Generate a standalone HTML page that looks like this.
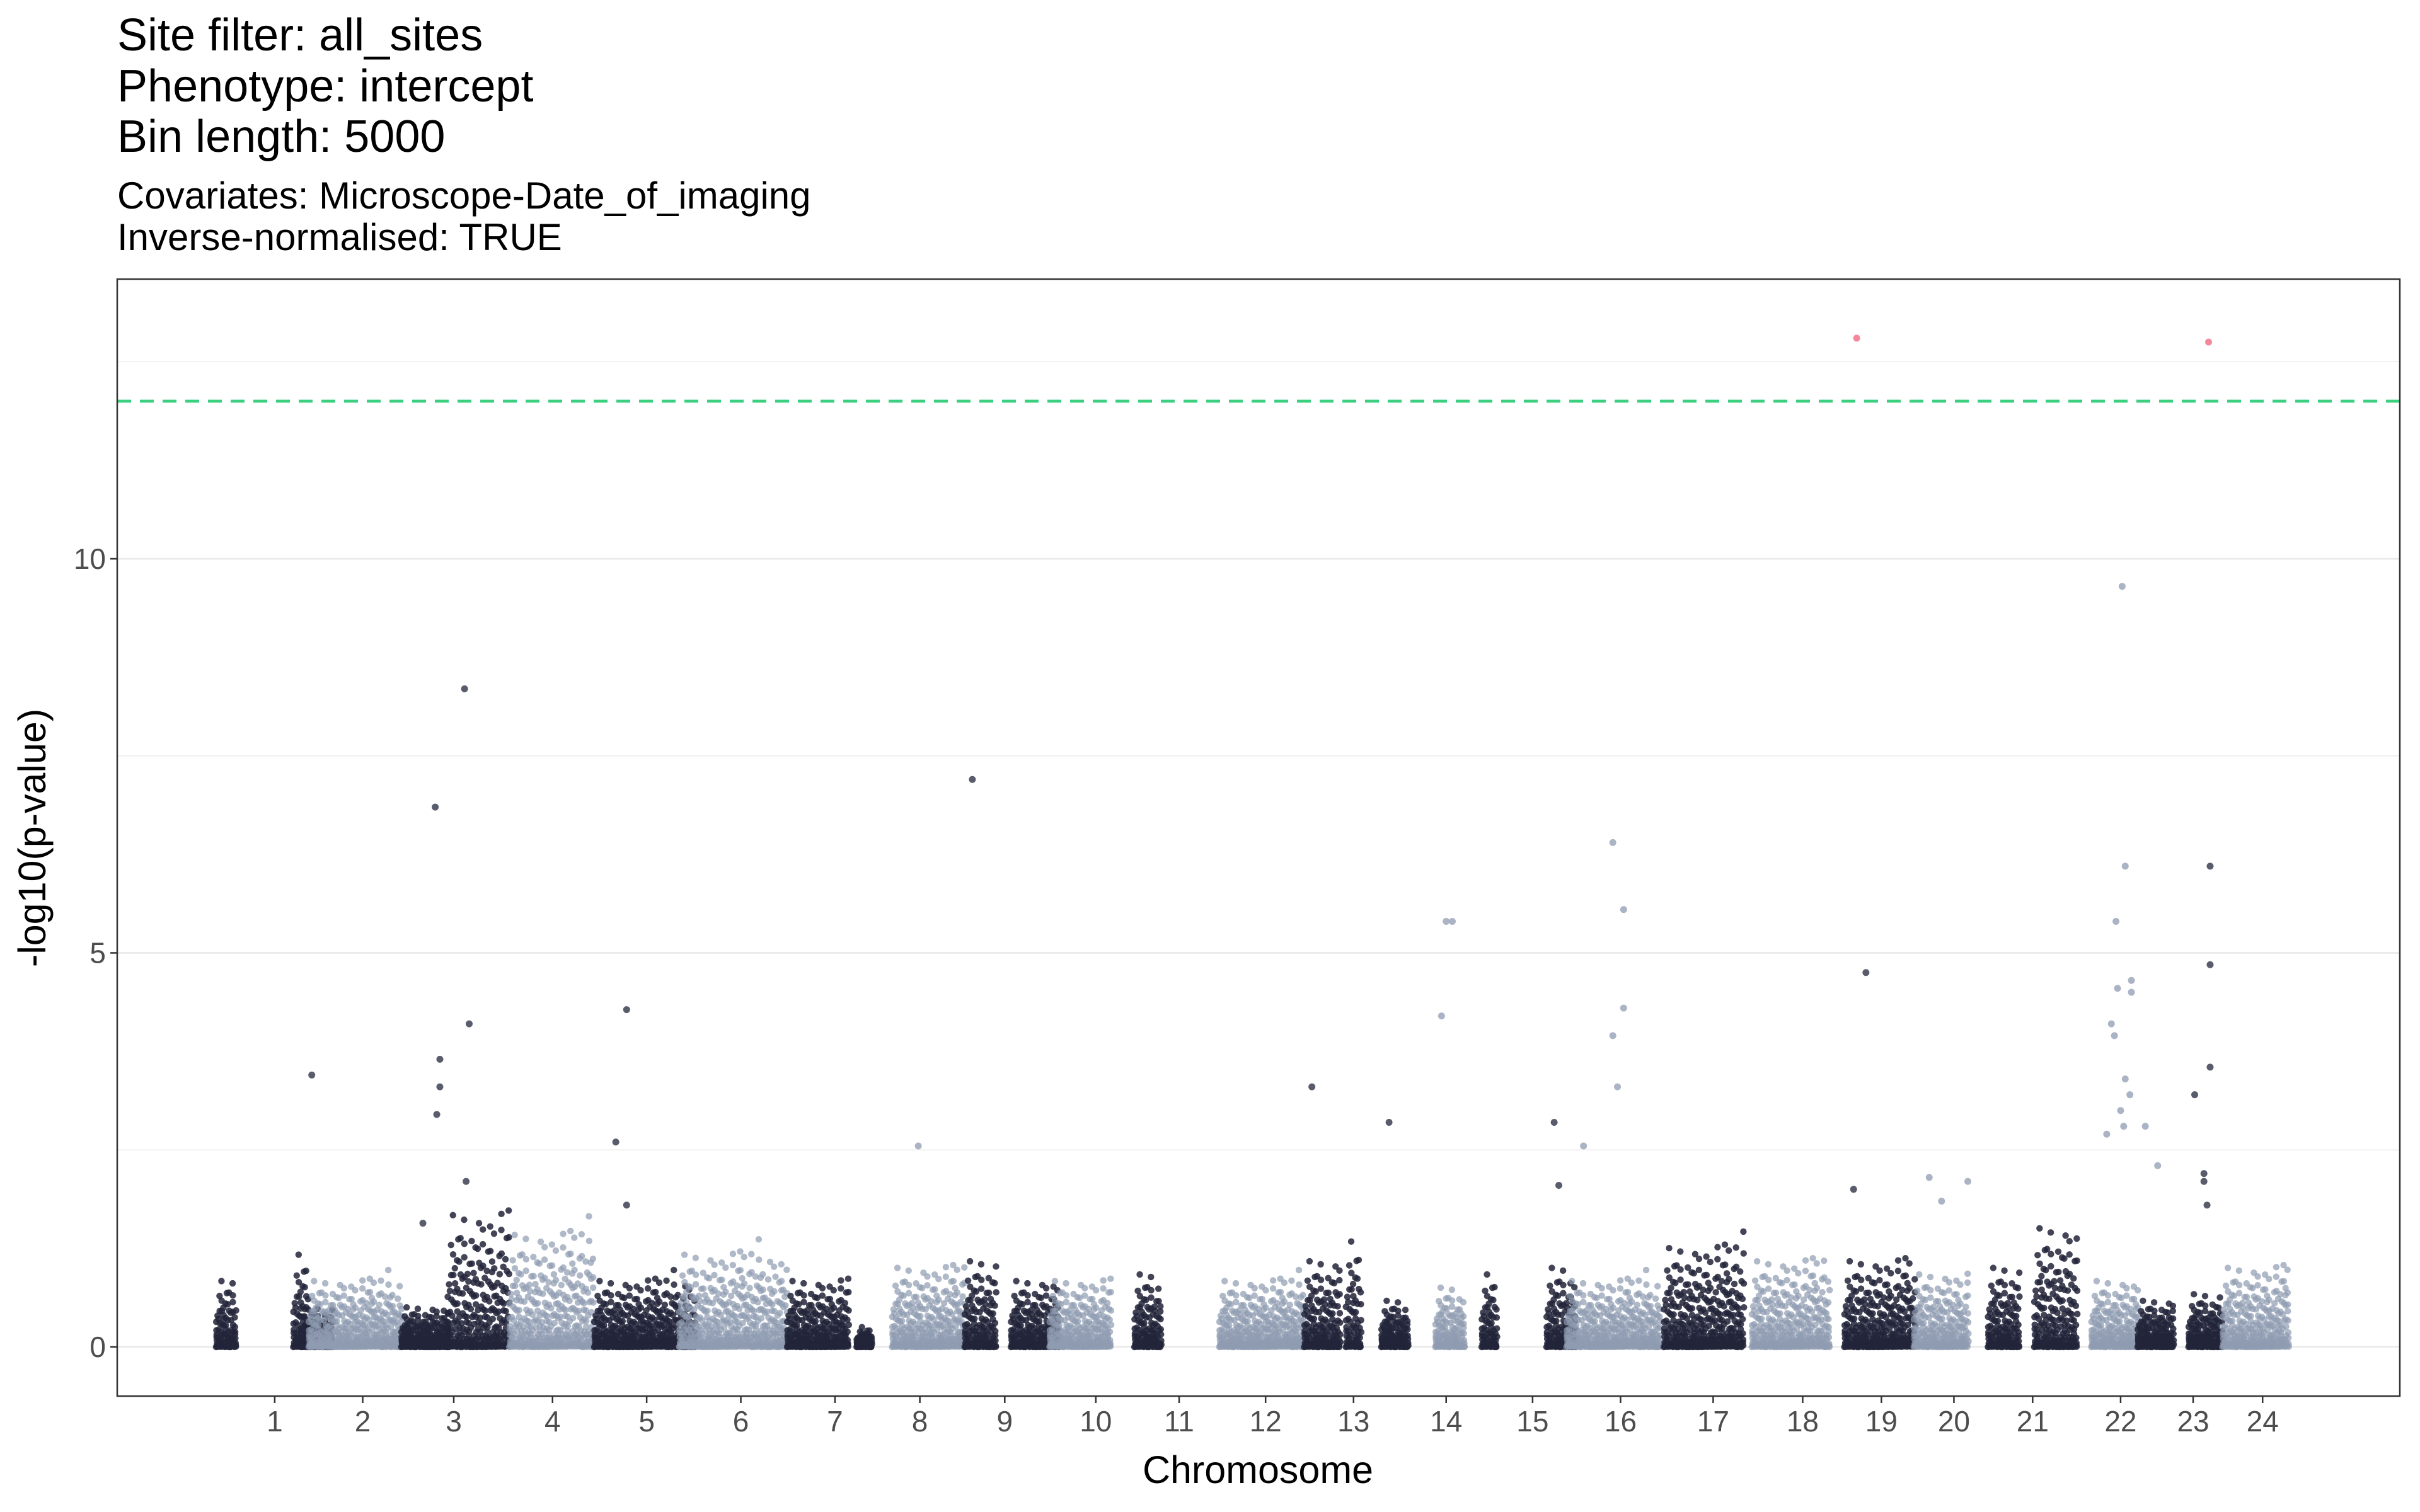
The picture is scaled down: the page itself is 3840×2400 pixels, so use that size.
<!DOCTYPE html>
<html><head><meta charset="utf-8"><style>
html,body{margin:0;padding:0;background:#fff}
svg{display:block;font-family:"Liberation Sans",sans-serif}
</style></head><body>
<svg id="chart" width="3840" height="2400" viewBox="0 0 3840 2400">
<g>
<text x="186" y="80" font-size="72" fill="#000">Site filter: all_sites</text>
<text x="186" y="161" font-size="72" fill="#000">Phenotype: intercept</text>
<text x="186" y="241" font-size="72" fill="#000">Bin length: 5000</text>
<text x="186" y="331" font-size="60" fill="#000">Covariates: Microscope-Date_of_imaging</text>
<text x="186" y="397" font-size="60" fill="#000">Inverse-normalised: TRUE</text>
</g>
<g id="grid"></g>
<g id="pts"></g>
<g id="axes"></g>
<text x="1996" y="2354" font-size="61" text-anchor="middle" fill="#000">Chromosome</text>
<text transform="translate(72,1330) rotate(-90)" font-size="61" text-anchor="middle" fill="#000">-log10(p-value)</text>
</svg>
<script>
const chromLabels=["1","2","3","4","5","6","7","8","9","10","11","12","13","14","15","16","17","18","19","20","21","22","23","24"];
const chromCenters=[178,235,294,358,419,480,541,596,651,710,764,820,877,937,993,1050,1110,1168,1219,1266,1317,1374,1421,1466];
const yTicks=[0,5,10];
const threshold=12;
const bandStart=[140,190,195,200,260,290,330,385,440,510,555,578,625,655,680,735,790,845,872,895,930,960,1002,1015,1078,1135,1195,1240,1288,1318,1355,1385,1418,1440];
const bandEnd  =[153,200,215,260,290,330,385,450,510,550,565,625,645,685,720,752,845,868,882,912,948,970,1020,1075,1130,1185,1240,1275,1308,1345,1385,1408,1440,1482];
const bandMax  =[1.0,1.4,0.6,1.0,0.6,2.0,1.7,1.0,1.4,1.0,0.3,1.2,1.3,1.0,1.0,1.1,1.0,1.3,1.6,0.7,0.9,1.1,1.2,1.0,1.5,1.3,1.3,1.1,1.2,1.8,1.0,0.7,0.8,1.2];
const bandCol  =["d","d","d","l","d","d","l","d","l","d","d","l","d","d","l","d","l","d","d","d","l","d","d","l","d","l","d","l","d","d","l","d","d","l"];
const outX=[202,274,282,285,285,283,301,304,302,406,399,406,595,630,850,900,934,937,941,1007,1010,1026,1045,1052,1052,1045,1048,1203,1209,1201,1250,1258,1275,1375,1377,1371,1372,1381,1381,1368,1370,1377,1380,1374,1376,1365,1390,1398,1431,1432,1432,1432,1422,1428,1428,1430];
const outY=[3.45,1.57,6.85,3.65,3.3,2.95,8.35,4.1,2.1,4.28,2.6,1.8,2.55,7.2,3.3,2.85,4.2,5.4,5.4,2.85,2.05,2.55,6.4,5.55,4.3,3.95,3.3,12.8,4.75,2.0,2.15,1.85,2.1,9.65,6.1,5.4,4.55,4.65,4.5,4.1,3.95,3.4,3.2,3.0,2.8,2.7,2.8,2.3,12.75,6.1,4.85,3.55,3.2,2.2,2.1,1.8];
const outC=["d","d","d","d","d","d","d","d","d","d","d","d","l","d","d","d","l","l","l","d","d","l","l","l","l","l","l","r","d","d","l","l","l","l","l","l","l","l","l","l","l","l","l","l","l","l","l","l","r","d","d","d","d","d","d","d"];

const NS="http://www.w3.org/2000/svg";
const PX0=186,PX1=3808,PY0=443,PY1=2216;
const xS=g=>g*2.449;
const yS=v=>2138-v*125.1;
const colors={d:"#22253a",l:"#8f9bb0",r:"#f0607a"};
const grid=document.getElementById('grid'),pts=document.getElementById('pts'),axes=document.getElementById('axes');
function mk(tag,attrs,parent){const e=document.createElementNS(NS,tag);for(const k in attrs)e.setAttribute(k,attrs[k]);parent.appendChild(e);return e;}
mk('rect',{x:PX0,y:PY0,width:PX1-PX0,height:PY1-PY0,fill:'#fff'},grid);
for(let v=0;v<=12.5;v+=2.5){const l=mk('line',{x1:PX0,x2:PX1,y1:yS(v),y2:yS(v),stroke:'#ebebeb','stroke-width':(v%5===0)?3:1.6},grid);

}
for(let b=0;b<bandStart.length;b++){
 const s=bandStart[b],e=bandEnd[b],m=bandMax[b];
 let c=0;
 for(let x=s;x<=e;x+=1.5){
  const n=10;
  for(let k=0;k<n;k++){
   const f=((k*0.6180339+c*0.7548776)%1);
   const v=m*Math.pow(f,2.2)*(0.45+0.55*((c*0.381966)%1));
   const p=mk('circle',{cx:xS(x+((k*0.37)%1)),cy:yS(v),r:5.2,fill:colors[bandCol[b]],'fill-opacity':bandCol[b]==='d'?0.85:0.7},pts);
   
   
  }
  c++;
 }
}
for(let i=0;i<outX.length;i++){
 const p=mk('circle',{cx:xS(outX[i]),cy:yS(outY[i]),r:5.5,fill:colors[outC[i]],'fill-opacity':0.75},pts);
 
 
}
const th=mk('line',{x1:PX0,x2:PX1,y1:yS(threshold),y2:yS(threshold),stroke:'#3ccf80','stroke-width':4.5,'stroke-dasharray':'22 14'},axes);


const fr=mk('rect',{x:PX0,y:PY0,width:PX1-PX0,height:PY1-PY0,fill:'none',stroke:'#333','stroke-width':2.5},axes);


yTicks.forEach(v=>{
 mk('line',{x1:PX0-11,x2:PX0,y1:yS(v),y2:yS(v),stroke:'#333','stroke-width':2.5},axes);
 const t=mk('text',{x:PX0-18,y:yS(v)+16,'font-size':46,'text-anchor':'end',fill:'#4d4d4d'},axes);
 t.textContent=v;
 
 
});
chromLabels.forEach((lab,i)=>{
 const x=xS(chromCenters[i]);
 mk('line',{x1:x,x2:x,y1:PY1,y2:PY1+11,stroke:'#333','stroke-width':2.5},axes);
 const t=mk('text',{x:x,y:PY1+56,'font-size':46,'text-anchor':'middle',fill:'#4d4d4d'},axes);
 t.textContent=lab;
 
 
});
</script>
</body></html>
